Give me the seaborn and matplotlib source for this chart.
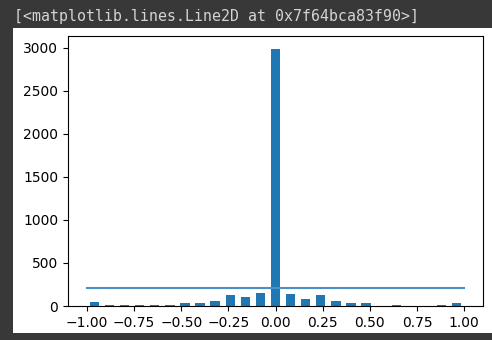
import numpy as np
import pandas as pd
import matplotlib
matplotlib.use('Agg')
import matplotlib.pyplot as plt
import seaborn as sns
from matplotlib.patches import Rectangle

# Histogram data: 25 bins over [-1, 1]
bin_lo = -1.0
bin_hi = 1.0
n_bins = 25
counts = [42, 15, 15, 15, 15, 15, 30, 30, 58, 128, 100, 155, 2985,
          140, 85, 128, 58, 30, 30, 0, 12, 0, 0, 12, 32]
line_x = [-1.0, 1.0]
line_y = [205, 205]

header = "[<matplotlib.lines.Line2D at 0x7f64bca83f90>]"

edges = np.linspace(bin_lo, bin_hi, n_bins + 1)
centers = (edges[:-1] + edges[1:]) / 2
df = pd.DataFrame({'value': centers, 'count': counts})

fig = plt.figure(figsize=(4.92, 3.40), dpi=100, facecolor='#383838')
# white output area of the notebook cell
fig.patches.append(Rectangle((13 / 492, 1 - 333 / 340), (492 - 13) / 492, (333 - 28) / 340,
                             transform=fig.transFigure, facecolor='white',
                             edgecolor='none', zorder=-5))
fig.text(14 / 492, 1 - 17 / 340, header, family='DejaVu Sans Mono', fontsize=10.7,
         color='#d4d4d4', va='center', ha='left')

ax = fig.add_axes([68 / 492, 1 - 306 / 340, (483 - 68) / 492, (306 - 36) / 340])
sns.histplot(data=df, x='value', weights='count', bins=list(edges), shrink=0.62,
             color='#1f77b4', alpha=1, linewidth=0, ax=ax)
ax.plot(line_x, line_y, color='#4a90c8', lw=1.5)
ax.set_ylabel('')
ax.set_xlabel('')
ax.set_xticks([-1.0, -0.75, -0.5, -0.25, 0.0, 0.25, 0.5, 0.75, 1.0])
ax.set_xlim(-1.1, 1.1)
ax.set_ylim(0, 2985 * 1.05)

fig.savefig('out.png', dpi=100, facecolor=fig.get_facecolor())
